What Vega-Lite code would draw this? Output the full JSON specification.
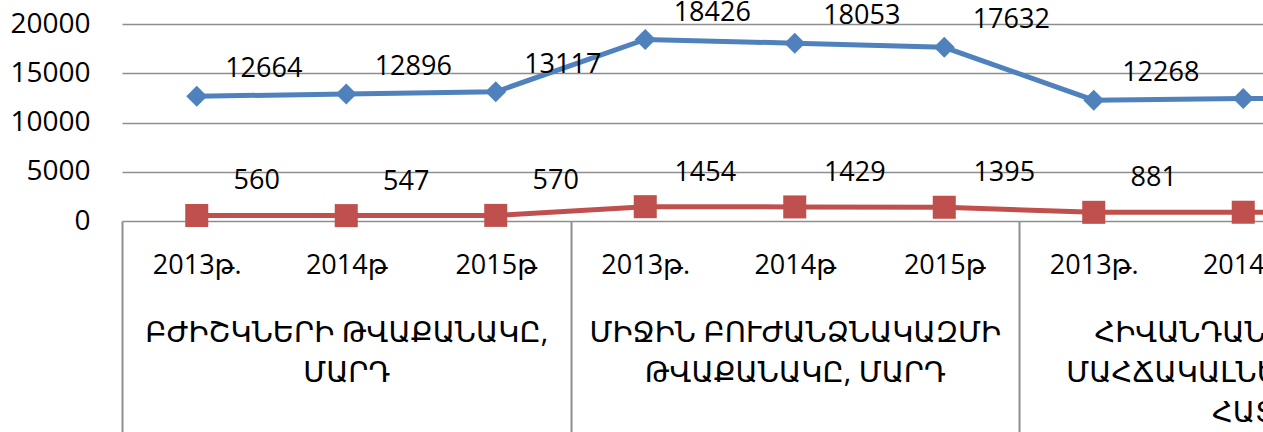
{
  "$schema": "https://vega.github.io/schema/vega-lite/v6.json",
  "autosize": {"type": "none"},
  "width": 1141,
  "height": 197,
  "padding": {"left": 122, "top": 24, "right": 0, "bottom": 211},
  "background": "white",
  "config": {
    "font": "Open Sans, DejaVu Sans",
    "view": {"stroke": null},
    "axis": {"labelFont": "Open Sans, DejaVu Sans", "labelFontSize": 27, "labelColor": "#000000", "title": null}
  },
  "data": {
    "values": [
      {"group": "ԲԺԻՇԿՆԵՐԻ  ԹՎԱՔԱՆԱԿԸ,\nՄԱՐԴ", "key": "1|2013թ.", "series": "s1", "value": 12664},
      {"group": "ԲԺԻՇԿՆԵՐԻ  ԹՎԱՔԱՆԱԿԸ,\nՄԱՐԴ", "key": "2|2014թ", "series": "s1", "value": 12896},
      {"group": "ԲԺԻՇԿՆԵՐԻ  ԹՎԱՔԱՆԱԿԸ,\nՄԱՐԴ", "key": "3|2015թ", "series": "s1", "value": 13117},
      {"group": "ՄԻՋԻՆ ԲՈՒԺԱՆՁՆԱԿԱԶՄԻ\nԹՎԱՔԱՆԱԿԸ, ՄԱՐԴ", "key": "4|2013թ.", "series": "s1", "value": 18426},
      {"group": "ՄԻՋԻՆ ԲՈՒԺԱՆՁՆԱԿԱԶՄԻ\nԹՎԱՔԱՆԱԿԸ, ՄԱՐԴ", "key": "5|2014թ", "series": "s1", "value": 18053},
      {"group": "ՄԻՋԻՆ ԲՈՒԺԱՆՁՆԱԿԱԶՄԻ\nԹՎԱՔԱՆԱԿԸ, ՄԱՐԴ", "key": "6|2015թ", "series": "s1", "value": 17632},
      {"group": "ՀԻՎԱՆԴԱՆՈՑԱՅԻՆ\nՄԱՀՃԱԿԱԼՆԵՐԻ ԹԻՎԸ,\nՀԱՏ", "key": "7|2013թ.", "series": "s1", "value": 12268},
      {"group": "ՀԻՎԱՆԴԱՆՈՑԱՅԻՆ\nՄԱՀՃԱԿԱԼՆԵՐԻ ԹԻՎԸ,\nՀԱՏ", "key": "8|2014թ", "series": "s1", "value": 12440},
      {"group": "ՀԻՎԱՆԴԱՆՈՑԱՅԻՆ\nՄԱՀՃԱԿԱԼՆԵՐԻ ԹԻՎԸ,\nՀԱՏ", "key": "9|2015թ", "series": "s1", "value": 12500},
      {"group": "ԲԺԻՇԿՆԵՐԻ  ԹՎԱՔԱՆԱԿԸ,\nՄԱՐԴ", "key": "1|2013թ.", "series": "s2", "value": 560},
      {"group": "ԲԺԻՇԿՆԵՐԻ  ԹՎԱՔԱՆԱԿԸ,\nՄԱՐԴ", "key": "2|2014թ", "series": "s2", "value": 547},
      {"group": "ԲԺԻՇԿՆԵՐԻ  ԹՎԱՔԱՆԱԿԸ,\nՄԱՐԴ", "key": "3|2015թ", "series": "s2", "value": 570},
      {"group": "ՄԻՋԻՆ ԲՈՒԺԱՆՁՆԱԿԱԶՄԻ\nԹՎԱՔԱՆԱԿԸ, ՄԱՐԴ", "key": "4|2013թ.", "series": "s2", "value": 1454},
      {"group": "ՄԻՋԻՆ ԲՈՒԺԱՆՁՆԱԿԱԶՄԻ\nԹՎԱՔԱՆԱԿԸ, ՄԱՐԴ", "key": "5|2014թ", "series": "s2", "value": 1429},
      {"group": "ՄԻՋԻՆ ԲՈՒԺԱՆՁՆԱԿԱԶՄԻ\nԹՎԱՔԱՆԱԿԸ, ՄԱՐԴ", "key": "6|2015թ", "series": "s2", "value": 1395},
      {"group": "ՀԻՎԱՆԴԱՆՈՑԱՅԻՆ\nՄԱՀՃԱԿԱԼՆԵՐԻ ԹԻՎԸ,\nՀԱՏ", "key": "7|2013թ.", "series": "s2", "value": 881},
      {"group": "ՀԻՎԱՆԴԱՆՈՑԱՅԻՆ\nՄԱՀՃԱԿԱԼՆԵՐԻ ԹԻՎԸ,\nՀԱՏ", "key": "8|2014թ", "series": "s2", "value": 890},
      {"group": "ՀԻՎԱՆԴԱՆՈՑԱՅԻՆ\nՄԱՀՃԱԿԱԼՆԵՐԻ ԹԻՎԸ,\nՀԱՏ", "key": "9|2015թ", "series": "s2", "value": 900}
    ]
  },
  "resolve": {"scale": {"x": "independent"}, "axis": {"x": "independent"}},
  "layer": [
    {
      "mark": {"type": "rule", "opacity": 0},
      "encoding": {
        "x": {
          "field": "group", "type": "nominal", "sort": null,
          "scale": {"type": "band", "range": [0, 1345.5], "paddingInner": 0, "paddingOuter": 0},
          "axis": {
            "orient": "bottom", "domain": false, "grid": false,
            "ticks": true, "tickBand": "extent", "tickSize": 211, "tickColor": "#8e8e8e", "tickWidth": 2,
            "labelPadding": -114, "labelLineHeight": 40, "labelAngle": 0, "labelFontSize": 29,
            "labelExpr": "split(datum.label, '\\n')",
            "labelLimit": 0
          }
        }
      }
    },
    {
      "encoding": {
        "x": {
          "field": "key", "type": "nominal", "sort": null,
          "scale": {"type": "point", "range": [0, 1345.5], "padding": 0.5},
          "axis": {
            "orient": "bottom", "domain": false, "grid": false, "ticks": false,
            "labelPadding": 31, "labelAngle": 0,
            "labelExpr": "split(datum.label, '|')[1]"
          }
        },
        "y": {
          "field": "value", "type": "quantitative",
          "scale": {"domain": [0, 20000], "nice": false},
          "axis": {
            "values": [0, 5000, 10000, 15000, 20000], "format": "d",
            "domain": false, "ticks": false, "labelPadding": 32, "labelFontSize": 28,
            "grid": true, "gridColor": "#8e8e8e", "gridWidth": 1.5
          }
        },
        "color": {
          "field": "series", "type": "nominal",
          "scale": {"domain": ["s1", "s2"], "range": ["#4F81BD", "#C0504D"]},
          "legend": null
        }
      },
      "layer": [
        {"mark": {"type": "line", "strokeWidth": 5}},
        {
          "mark": {"type": "point", "filled": true, "opacity": 1},
          "encoding": {
            "shape": {"field": "series", "type": "nominal", "scale": {"domain": ["s1", "s2"], "range": ["diamond", "square"]}, "legend": null},
            "size": {"field": "series", "type": "nominal", "scale": {"domain": ["s1", "s2"], "range": [440, 530]}, "legend": null}
          }
        },
        {
          "transform": [{"filter": "datum.series === 's1'"}],
          "mark": {"type": "text", "dx": 67, "dy": -27, "fontSize": 27, "font": "Open Sans", "color": "#000000"},
          "encoding": {"text": {"field": "value", "type": "quantitative", "format": "d"}, "color": {"value": "#000000"}}
        },
        {
          "transform": [{"filter": "datum.series === 's2'"}],
          "mark": {"type": "text", "dx": 60, "dy": -34, "fontSize": 27, "font": "Open Sans", "color": "#000000"},
          "encoding": {"text": {"field": "value", "type": "quantitative", "format": "d"}, "color": {"value": "#000000"}}
        }
      ]
    }
  ]
}
